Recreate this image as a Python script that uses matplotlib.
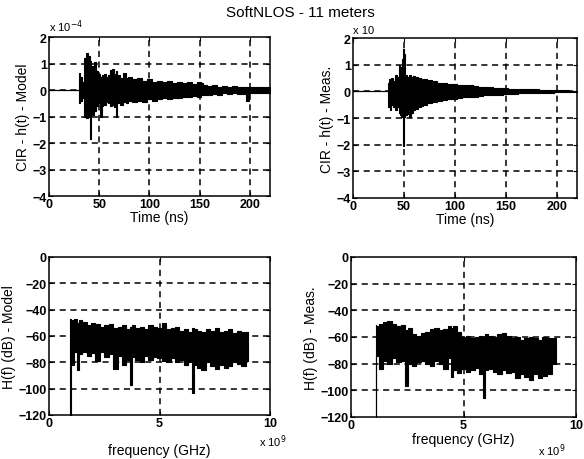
import matplotlib
matplotlib.use("Agg")
import matplotlib.pyplot as plt
import numpy as np

plt.rcParams['font.family'] = ['Liberation Sans', 'DejaVu Sans']

# ---- CIR Model (time ns, amplitude x1e-4): upper / lower envelope ----
t_model = [0, 29, 30, 32, 34, 36, 38, 40, 41, 42,
           44, 46, 48, 50, 52, 53, 54, 56, 58, 60,
           62, 64, 66, 67, 68, 70, 72, 75, 78, 80,
           85, 90, 95, 100, 105, 110, 115, 120, 125, 130,
           135, 140, 145, 150, 152, 155, 160, 165, 170, 175,
           180, 185, 190, 195, 198, 200, 205, 210, 215, 220]
h_model_up = [0, 0, 0.65, 0.5, 0.3, 1.2, 1.4, 1.3, 1.1, 0.6,
              0.9, 1.05, 0.7, 0.6, 0.5, 0.55, 0.45, 0.6, 0.5, 0.55,
              0.75, 0.8, 0.6, 0.7, 0.5, 0.55, 0.45, 0.65, 0.45, 0.5,
              0.4, 0.45, 0.35, 0.4, 0.3, 0.35, 0.3, 0.35, 0.28, 0.3,
              0.25, 0.3, 0.22, 0.3, 0.25, 0.18, 0.15, 0.18, 0.13, 0.15,
              0.12, 0.15, 0.12, 0.1, 0.12, 0.13, 0.1, 0.12, 0.1, 0.1]
h_model_lo = [0, 0, -0.5, -0.4, -0.3, -1.0, -1.05, -1.0, -1.85, -0.9,
              -0.95, -0.8, -0.6, -0.5, -1.0, -0.6, -0.5, -0.55, -0.45, -0.5,
              -0.6, -0.55, -0.65, -1.0, -0.5, -0.5, -0.55, -0.45, -0.5, -0.4,
              -0.45, -0.4, -0.45, -0.35, -0.4, -0.35, -0.3, -0.35, -0.3, -0.3,
              -0.25, -0.28, -0.22, -0.25, -0.2, -0.2, -0.18, -0.15, -0.17, -0.13,
              -0.15, -0.12, -0.14, -0.15, -0.4, -0.12, -0.12, -0.1, -0.12, -0.1]

# ---- CIR Measured ----
t_meas = [0, 34, 35, 36, 37, 38, 40, 42, 44, 46,
          47, 48, 49, 50, 51, 52, 54, 56, 58, 60,
          62, 65, 68, 70, 75, 80, 85, 90, 95, 100,
          105, 110, 115, 120, 125, 130, 135, 140, 145, 150,
          155, 160, 165, 170, 175, 180, 185, 190, 195, 200,
          205, 210, 215, 220]
h_meas_up = [0, 0, 0.3, 0.45, 0.35, 0.5, 0.4, 0.6, 0.55, 1.0,
             0.9, 0.7, 1.2, 1.6, 1.4, 0.6, 0.55, 0.6, 0.55, 0.58,
             0.55, 0.5, 0.45, 0.45, 0.42, 0.38, 0.33, 0.3, 0.28, 0.27,
             0.25, 0.22, 0.24, 0.2, 0.18, 0.16, 0.15, 0.14, 0.12, 0.12,
             0.1, 0.09, 0.1, 0.08, 0.07, 0.08, 0.06, 0.06, 0.05, 0.05,
             0.04, 0.04, 0.03, 0.03]
h_meas_lo = [0, 0, -0.6, -0.4, -0.7, -0.5, -0.6, -0.7, -0.6, -0.8,
             -0.9, -0.95, -0.9, -2.05, -0.95, -0.9, -0.85, -0.95, -0.8, -0.7,
             -0.65, -0.6, -0.55, -0.5, -0.45, -0.4, -0.35, -0.33, -0.3, -0.28,
             -0.25, -0.22, -0.2, -0.2, -0.18, -0.15, -0.14, -0.13, -0.12, -0.1,
             -0.1, -0.09, -0.08, -0.08, -0.07, -0.06, -0.06, -0.05, -0.05, -0.04,
             -0.04, -0.04, -0.03, -0.03]

# ---- H(f) Model (GHz, dB) ----
f_model = [0.95, 1.0, 1.1, 1.2, 1.3, 1.4,
           1.6, 1.8, 2.0, 2.2, 2.4, 2.6, 2.8, 3.0, 3.2, 3.4,
           3.6, 3.7, 3.8,
           4.0, 4.2, 4.4, 4.6, 4.8, 5.0, 5.2, 5.4, 5.6, 5.8, 6.0, 6.2, 6.4,
           6.5,
           6.6, 6.8, 7.0, 7.2, 7.4, 7.6, 7.8, 8.0, 8.2, 8.4, 8.6, 8.8, 9.0]
H_model_up = [-47, -48, -48, -47, -50, -48,
              -49, -52, -50, -51, -53, -52, -51, -54, -53, -52,
              -55, -53, -52,
              -54, -53, -55, -52, -53, -54, -50, -55, -54, -53, -56, -55, -57,
              -54,
              -55, -56, -57, -55, -56, -54, -57, -56, -55, -58, -56, -57, -57]
H_model_lo = [-120, -74, -82, -72, -86, -74,
              -72, -75, -73, -79, -72, -76, -74, -85, -75, -82,
              -78, -97, -76,
              -78, -80, -75, -78, -76, -77, -79, -80, -77, -80, -78, -82, -80,
              -103,
              -82, -84, -86, -80, -83, -85, -82, -84, -83, -80, -81, -83, -79]

# ---- H(f) Measured ----
f_meas = [1.1, 1.15, 1.3, 1.5, 1.7, 1.9, 2.1, 2.3, 2.5, 2.6,
          2.8, 3.0, 3.2, 3.4, 3.6, 3.8, 4.0, 4.2, 4.4, 4.5,
          4.6, 4.8, 5.0, 5.2, 5.4, 5.6, 5.8, 5.9, 6.0, 6.2,
          6.4, 6.6, 6.8, 7.0, 7.2, 7.4, 7.6, 7.8, 8.0, 8.2,
          8.4, 8.6, 8.8, 9.1]
H_meas_up = [-51, -52, -50, -49, -48, -50, -52, -51, -55, -53,
             -58, -59, -57, -56, -54, -53, -55, -54, -52, -53,
             -52, -56, -60, -59, -61, -60, -59, -60, -58, -59,
             -60, -58, -57, -59, -61, -60, -62, -61, -60, -61,
             -62, -60, -61, -61]
H_meas_lo = [-120, -74, -84, -78, -80, -76, -79, -78, -97, -80,
             -82, -79, -78, -80, -82, -78, -80, -84, -76, -90,
             -85, -87, -84, -86, -85, -83, -88, -106, -85, -84,
             -86, -88, -85, -87, -86, -91, -88, -90, -92, -88,
             -91, -89, -88, -80]

time_ticks = [0, 50, 100, 150, 200]
cir_ticks = [-4, -3, -2, -1, 0, 1, 2]
freq_ticks = [0, 5, 10]
db_ticks = [-120, -100, -80, -60, -40, -20, 0]

W, H = 584, 460
fig = plt.figure(figsize=(W / 100, H / 100), dpi=100)


def box(l, t, r, b):
    return [l / W, 1 - b / H, (r - l) / W, (b - t) / H]


axes = {
    'tl': fig.add_axes(box(49, 38, 270, 197)),
    'tr': fig.add_axes(box(353, 39, 577, 199)),
    'bl': fig.add_axes(box(49, 258, 270, 416)),
    'br': fig.add_axes(box(351, 258, 576, 418)),
}

FS = 9


def style(ax, xt, yt, xlim, ylim, grid_x, grid_y):
    ax.set_xlim(*xlim)
    ax.set_ylim(*ylim)
    ax.set_xticks(xt)
    ax.set_yticks(yt)
    ax.tick_params(direction='in', length=3, width=0.8, top=True, right=True,
                   labelsize=FS, pad=1.5)
    for lab in ax.get_xticklabels() + ax.get_yticklabels():
        lab.set_fontweight('bold')
    for s in ax.spines.values():
        s.set_linewidth(1.1)
        s.set_color('black')
    for g in grid_x:
        ax.axvline(g, color='black', lw=1.1, ls=(0, (4, 3)), zorder=0.5)
    for g in grid_y:
        ax.axhline(g, color='black', lw=1.1, ls=(0, (4, 3)), zorder=0.5)


def band(ax, x, lo, up):
    ax.fill_between(x, lo, up, step='mid', facecolor='black',
                    edgecolor='black', lw=0.8, zorder=2)


ax = axes['tl']
band(ax, t_model, h_model_lo, h_model_up)
style(ax, time_ticks, cir_ticks, (0, 220), (-4, 2), [50, 100, 150, 200], [1, 0, -1, -2, -3])
ax.set_xlabel('Time (ns)', fontsize=FS + 1, labelpad=0)
ax.set_ylabel('CIR - h(t) - Model', fontsize=FS + 1, labelpad=2)
ax.text(0.0, 1.02, 'x 10$^{-4}$', transform=ax.transAxes, fontsize=FS - 1, va='bottom')

ax = axes['tr']
band(ax, t_meas, h_meas_lo, h_meas_up)
style(ax, time_ticks, cir_ticks, (0, 220), (-4, 2), [50, 100, 150, 200], [1, 0, -1, -2, -3])
ax.set_xlabel('Time (ns)', fontsize=FS + 1, labelpad=0)
ax.set_ylabel('CIR - h(t) - Meas.', fontsize=FS + 1, labelpad=2)
ax.text(0.0, 1.02, 'x 10', transform=ax.transAxes, fontsize=FS - 1, va='bottom')

ax = axes['bl']
band(ax, f_model, H_model_lo, H_model_up)
style(ax, freq_ticks, db_ticks, (0, 10), (-120, 0), [5], [-20, -40, -60, -80, -100])
ax.set_xlabel('frequency (GHz)', fontsize=FS + 1, labelpad=10)
ax.set_ylabel('H(f) (dB) - Model', fontsize=FS + 1, labelpad=2)
ax.text(0.95, -0.11, 'x 10$^9$', transform=ax.transAxes, fontsize=FS - 1, va='top')

ax = axes['br']
band(ax, f_meas, H_meas_lo, H_meas_up)
style(ax, freq_ticks, db_ticks, (0, 10), (-120, 0), [5], [-20, -40, -60, -80, -100])
ax.set_xlabel('frequency (GHz)', fontsize=FS + 1, labelpad=1)
ax.set_ylabel('H(f) (dB) - Meas.', fontsize=FS + 1, labelpad=2)
ax.text(0.83, -0.15, 'x 10$^9$', transform=ax.transAxes, fontsize=FS - 1, va='top')

fig.text(300 / W, 1 - 13 / H, 'SoftNLOS - 11 meters', ha='center', va='center', fontsize=11)

fig.savefig('out.png', dpi=100)
